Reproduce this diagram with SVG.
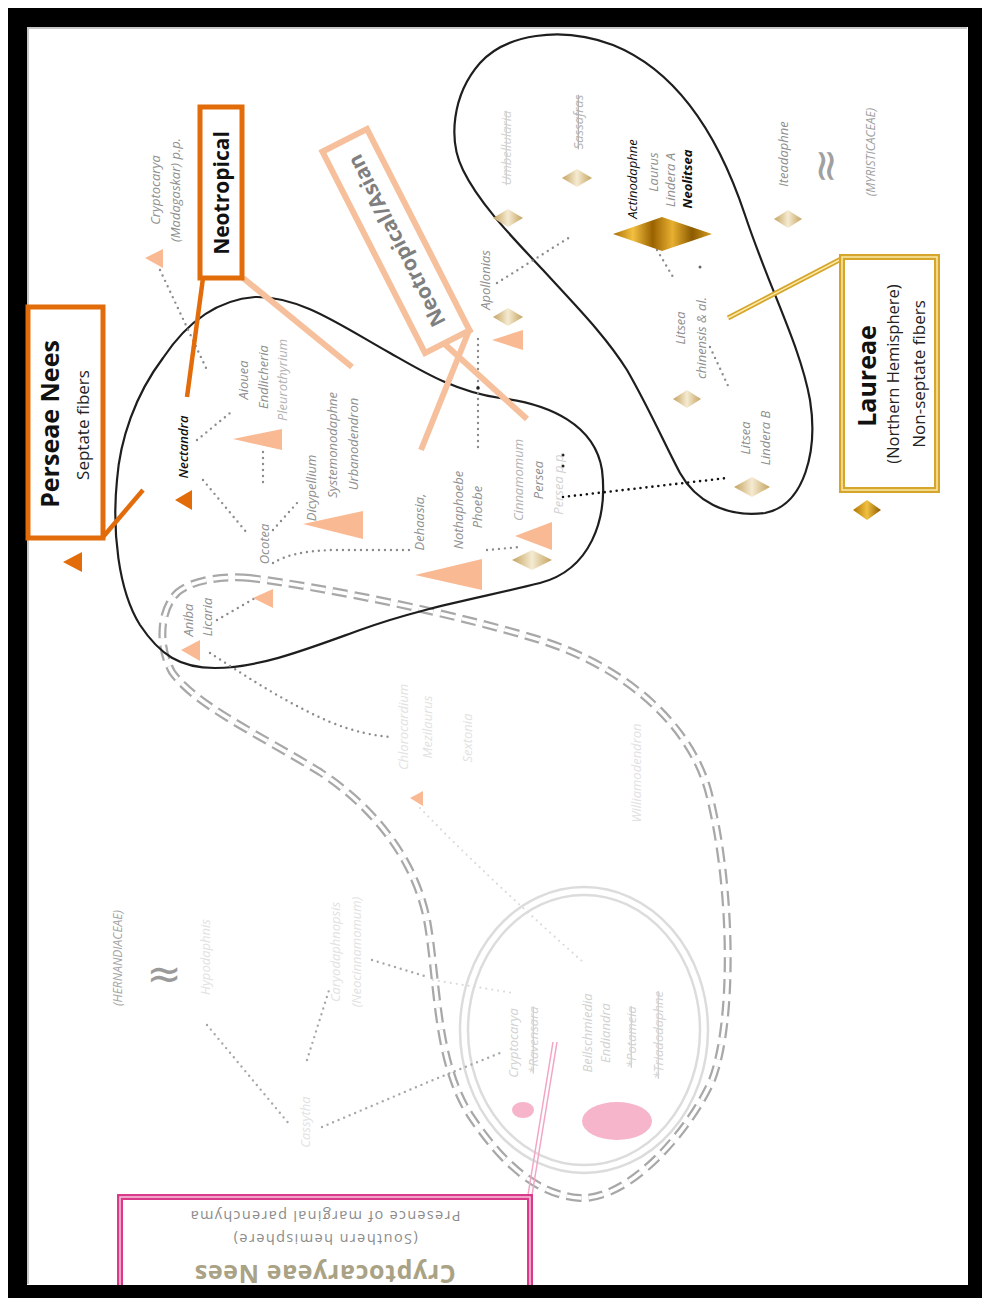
<svg xmlns="http://www.w3.org/2000/svg" width="990" height="1306" viewBox="0 0 990 1306">
<defs>
<style>
.it{font-family:"Open Sans","Liberation Sans",sans-serif;font-style:italic;font-size:13px;fill:#8f8f8f}
.lt{fill:#b3b3b3}
.vl{fill:#d2d2d2}
.fa{fill:#e2e2e2}
.bk{fill:#111}
.dot{fill:none;stroke:#8c8c8c;stroke-width:2.4;stroke-linecap:round;stroke-dasharray:0 6}
.dotl{fill:none;stroke:#dadada;stroke-width:2.2;stroke-linecap:round;stroke-dasharray:0 6}
.dotb{fill:none;stroke:#111;stroke-width:2.6;stroke-linecap:round;stroke-dasharray:0 6}
.blob{fill:none;stroke:#1e1e1e;stroke-width:2.2}
.to{fill:#E36C0A}
.tp{fill:#F8B993}
.dg{fill:url(#gtan)}
.bx{font-family:"Open Sans","Liberation Sans",sans-serif}
</style>
<linearGradient id="gtan" x1="0" y1="0" x2="1" y2="0">
<stop offset="0" stop-color="#c4a25e"/><stop offset="0.5" stop-color="#f5ebd2"/><stop offset="1" stop-color="#c4a25e"/>
</linearGradient>
<linearGradient id="ggold" x1="0" y1="0" x2="1" y2="0">
<stop offset="0" stop-color="#a86d00"/><stop offset="0.2" stop-color="#f3c040"/><stop offset="0.4" stop-color="#9a6200"/><stop offset="0.6" stop-color="#e8b030"/><stop offset="0.8" stop-color="#8c5a00"/><stop offset="1" stop-color="#d9a020"/>
</linearGradient>
<linearGradient id="ggold2" x1="0" y1="0" x2="1" y2="0">
<stop offset="0" stop-color="#b07400"/><stop offset="0.5" stop-color="#f0c040"/><stop offset="1" stop-color="#8f5a00"/>
</linearGradient>
</defs>
<rect x="0" y="0" width="990" height="1306" fill="#fff"/>

<!-- frame -->
<g id="frame">
<path d="M8,8 H982 V1298 H8 Z M27,27 V1285 H968 V27 Z" fill="#000" fill-rule="evenodd"/>
<path d="M28,1284 V28 H967" fill="none" stroke="#c8c8c8" stroke-width="2"/>
</g>

<!-- outlines -->
<g id="outlines">
<path d="M250,578 C230,576 195,578 178,592 C160,608 157,645 172,672 C195,705 260,735 320,772 C375,808 415,860 427,920 C438,980 435,1060 470,1115 C500,1160 535,1195 580,1198 C630,1200 690,1130 712,1080 C735,1020 732,880 708,790 C688,720 620,665 540,640 C460,615 330,588 250,578 Z" fill="none" stroke="#a8a8a8" stroke-width="8" stroke-dasharray="15 7"/>
<path d="M250,578 C230,576 195,578 178,592 C160,608 157,645 172,672 C195,705 260,735 320,772 C375,808 415,860 427,920 C438,980 435,1060 470,1115 C500,1160 535,1195 580,1198 C630,1200 690,1130 712,1080 C735,1020 732,880 708,790 C688,720 620,665 540,640 C460,615 330,588 250,578 Z" fill="none" stroke="#fff" stroke-width="3.5" stroke-dasharray="15 7"/>
<ellipse cx="584" cy="1030" rx="124" ry="143" fill="none" stroke="#dcdcdc" stroke-width="2.5"/>
<ellipse cx="584" cy="1030" rx="116" ry="135" fill="none" stroke="#dcdcdc" stroke-width="2.5"/>
<path class="blob" d="M163,358 C185,325 215,300 255,297 C300,296 340,325 390,353 C420,370 455,392 500,398 C550,404 595,425 602,470 C608,520 590,570 540,583 C480,598 420,608 360,630 C310,648 260,668 215,668 C180,668 160,655 140,625 C118,590 112,530 117,480 C120,440 135,395 163,358 Z"/>
<path class="blob" d="M480,63 C505,35 560,25 613,45 C670,68 715,125 745,215 C770,290 800,345 810,400 C818,450 805,505 765,513 C725,518 695,500 680,473 C665,445 650,410 627,370 C605,335 575,305 543,270 C515,240 480,205 463,170 C448,140 452,95 480,63 Z"/>
<ellipse cx="523" cy="1110" rx="11" ry="8" fill="#F6B5CB"/>
<ellipse cx="617" cy="1121" rx="35" ry="19" fill="#F6B5CB"/>
</g>

<!-- connectors -->
<g id="connectors">
<path class="dot" d="M160,270 L207,370"/>
<path class="dot" d="M197,440 L230,413"/>
<path class="dot" d="M263,452 L263,487"/>
<path class="dot" d="M203,480 L247,533"/>
<path class="dot" d="M273,530 L297,503"/>
<path class="dot" d="M273,563 C285,556 300,551 333,550 L410,550"/>
<path class="dot" d="M217,620 L257,597"/>
<path class="dot" d="M478,447 L478,337"/>
<path class="dot" d="M487,550 L520,547"/>
<path class="dotb" d="M563,497 L727,478"/>
<path class="dot" d="M497,283 L570,237"/>
<path class="dot" d="M657,250 L673,277"/>
<path class="dot" d="M710,347 L730,390"/>
<path class="dot" d="M210,653 C240,672 280,700 330,722 C355,732 375,736 392,737"/>
<path class="dotl" d="M420,808 C470,860 530,915 583,962"/>
<path class="dot" style="stroke:#a8a8a8" d="M207,1025 L290,1125"/>
<path class="dot" style="stroke:#a8a8a8" d="M322,1127 L433,1080 L500,1053"/>
<path class="dot" style="stroke:#a8a8a8" d="M307,1060 L330,987"/>
<path class="dot" style="stroke:#a8a8a8" d="M372,960 L428,977"/>
<path class="dotl" d="M433,980 L513,993"/>
<circle cx="700" cy="267" r="1.5" fill="#666"/>
<circle cx="563" cy="455" r="1.5" fill="#222"/>
<circle cx="563" cy="466" r="1.5" fill="#222"/>
<circle cx="478" cy="388" r="1.8" fill="#222"/>
<path d="M103,537 L143,490" stroke="#E36C0A" stroke-width="4.5" fill="none"/>
<path d="M203,278 L187,397" stroke="#E36C0A" stroke-width="4.5" fill="none"/>
<path d="M243,278 L352,367" stroke="#F6C09C" stroke-width="6" fill="none"/>
<path d="M470,328 L421,450" stroke="#F6C09C" stroke-width="6" fill="none"/>
<path d="M438,338 L527,419" stroke="#F6C09C" stroke-width="6" fill="none"/>
<path d="M843,258 L728,318" stroke="#d6a62c" stroke-width="5" fill="none"/>
<path d="M843,258 L728,318" stroke="#fbeaa8" stroke-width="1.5" fill="none"/>
<path d="M528,1195 L553,1042" stroke="#f2a5c4" stroke-width="1.5" fill="none"/>
<path d="M532,1195 L557,1042" stroke="#f2a5c4" stroke-width="1.5" fill="none"/>
</g>

<!-- boxes -->
<g id="box-perseae">
<rect x="28" y="307" width="75" height="231" fill="#fff" stroke="#E36C0A" stroke-width="5"/>
<text class="bx" transform="translate(59,424) rotate(-90)" text-anchor="middle" font-size="25" font-weight="bold" fill="#111">Perseae Nees</text>
<text class="bx" transform="translate(89,425) rotate(-90)" text-anchor="middle" font-size="17" fill="#222">Septate fibers</text>
</g>
<g id="box-neotropical">
<rect x="200" y="107" width="42" height="171" fill="#fff" stroke="#E36C0A" stroke-width="5"/>
<text class="bx" transform="translate(229,193) rotate(-90)" text-anchor="middle" font-size="21" font-weight="bold" fill="#111">Neotropical</text>
</g>
<g id="box-neoasian">
<g transform="translate(396,241) rotate(-117)">
<rect x="-113" y="-25" width="226" height="50" fill="#fff" stroke="#F6C09C" stroke-width="6"/>
<text class="bx" x="0" y="8" text-anchor="middle" font-size="21" font-weight="bold" fill="#7f7f7f">Neotropical/Asian</text>
</g>
</g>
<g id="box-laureae">
<rect x="842" y="257" width="95" height="233" fill="#fff" stroke="#d6a62c" stroke-width="6"/>
<rect x="842" y="257" width="95" height="233" fill="none" stroke="#fbeaa8" stroke-width="1.5"/>
<text class="bx" transform="translate(876,376) rotate(-90)" text-anchor="middle" font-size="25" font-weight="bold" fill="#111">Laureae</text>
<text class="bx" transform="translate(899,374) rotate(-90)" text-anchor="middle" font-size="16.5" fill="#222">(Northern Hemisphere)</text>
<text class="bx" transform="translate(925,374) rotate(-90)" text-anchor="middle" font-size="17" fill="#222">Non-septate fibers</text>
</g>
<g id="box-cryptocaryeae">
<rect x="120" y="1197" width="410" height="98" fill="#fff" stroke="#d93a8a" stroke-width="6"/>
<rect x="120" y="1197" width="410" height="98" fill="none" stroke="#f8c8dd" stroke-width="1.5"/>
<text class="bx" transform="translate(325,1265) rotate(180)" text-anchor="middle" font-size="25" font-weight="bold" letter-spacing="0.6" fill="#a9a285">Cryptocaryeae Nees</text>
<text class="bx" transform="translate(325,1234) rotate(180)" text-anchor="middle" font-size="14.5" letter-spacing="1.4" fill="#8c8c8c">(Southern hemisphere)</text>
<text class="bx" transform="translate(325,1211) rotate(180)" text-anchor="middle" font-size="14.5" letter-spacing="1.3" fill="#8c8c8c">Presence of marginal parenchyma</text>
</g>
<g id="frame-bottom">
<path d="M8,1285 H982 V1298 H8 Z" fill="#000"/>
</g>

<!-- nodes -->
<g id="n-perseae-tri"><polygon class="to" points="63,562 82,552 82,572"/></g>
<g id="n-nectandra"><polygon class="to" points="175,500 192,490 192,510"/>
<text class="it bk" font-weight="600" transform="translate(188,447) rotate(-90)" text-anchor="middle">Nectandra</text></g>
<g id="n-cryptocarya-mad"><polygon class="tp" points="145,258 163,249 163,268"/>
<text class="it" transform="translate(160,190) rotate(-90)" text-anchor="middle">Cryptocarya</text>
<text class="it" transform="translate(180,190) rotate(-90)" text-anchor="middle">(Madagaskar) p.p.</text></g>
<g id="n-aiouea"><polygon class="tp" points="233,439 282,429 282,450"/>
<text class="it" transform="translate(248,380) rotate(-90)" text-anchor="middle">Aiouea</text>
<text class="it" transform="translate(268,377) rotate(-90)" text-anchor="middle">Endlicheria</text>
<text class="it lt" transform="translate(287,380) rotate(-90)" text-anchor="middle">Pleurothyrium</text></g>
<g id="n-dicypellium"><polygon class="tp" points="303,524 363,511 363,539"/>
<text class="it" transform="translate(316,488) rotate(-90)" text-anchor="middle">Dicypellium</text>
<text class="it" transform="translate(337,445) rotate(-90)" text-anchor="middle">Systemonodaphne</text>
<text class="it" transform="translate(358,444) rotate(-90)" text-anchor="middle">Urbanodendron</text></g>
<g id="n-ocotea"><polygon class="tp" points="253,598 273,589 273,608"/>
<text class="it" transform="translate(269,544) rotate(-90)" text-anchor="middle">Ocotea</text></g>
<g id="n-aniba"><polygon class="tp" points="181,650 200,640 200,661"/>
<text class="it" transform="translate(193,620) rotate(-90)" text-anchor="middle">Aniba</text>
<text class="it" transform="translate(212,617) rotate(-90)" text-anchor="middle">Licaria</text></g>
<g id="n-dehaasia">
<text class="it" transform="translate(424,522) rotate(-90)" text-anchor="middle">Dehaasia,</text></g>
<g id="n-phoebe"><polygon class="tp" points="415,575 482,559 482,590"/>
<text class="it" transform="translate(463,510) rotate(-90)" text-anchor="middle">Nothaphoebe</text>
<text class="it" transform="translate(482,507) rotate(-90)" text-anchor="middle">Phoebe</text></g>
<g id="n-persea"><polygon class="tp" points="515,536 552,522 552,550"/>
<polygon class="dg" points="512,560 532,550 552,560 532,570"/>
<text class="it lt" transform="translate(523,480) rotate(-90)" text-anchor="middle">Cinnamomum</text>
<text class="it" transform="translate(543,480) rotate(-90)" text-anchor="middle">Persea</text>
<text class="it vl" transform="translate(563,483) rotate(-90)" text-anchor="middle">Persea p.p.</text></g>
<g id="n-apollonias"><polygon class="dg" points="493,317 508,308 523,317 508,326"/>
<polygon class="tp" points="492,340 523,330 523,350"/>
<text class="it" transform="translate(490,280) rotate(-90)" text-anchor="middle">Apollonias</text></g>
<g id="n-umbellularia"><polygon class="dg" points="493,218 508,209 523,218 508,227"/>
<text class="it vl" text-decoration="line-through" transform="translate(511,148) rotate(-90)" text-anchor="middle">Umbellularia</text></g>
<g id="n-sassafras"><polygon class="dg" points="562,178 577,169 592,178 577,187"/>
<text class="it lt" text-decoration="line-through" transform="translate(583,122) rotate(-90)" text-anchor="middle">Sassafras</text></g>
<g id="n-actinodaphne"><polygon fill="url(#ggold)" points="613,234 662,217 712,234 662,251"/>
<text class="it bk" transform="translate(637,179) rotate(-90)" text-anchor="middle">Actinodaphne</text>
<text class="it" transform="translate(658,172) rotate(-90)" text-anchor="middle">Laurus</text>
<text class="it" transform="translate(675,180) rotate(-90)" text-anchor="middle">Lindera A</text>
<text class="it bk" font-style="normal" font-weight="bold" transform="translate(692,179) rotate(-90)" text-anchor="middle">Neolitsea</text></g>
<g id="n-itea"><polygon class="dg" points="774,219 788,210 802,219 788,228"/>
<text class="it" transform="translate(788,154) rotate(-90)" text-anchor="middle">Iteadaphne</text></g>
<g id="n-myristicaceae">
<text font-family="'DejaVu Sans',sans-serif" transform="translate(840,166) rotate(-90)" text-anchor="middle" font-size="44" fill="#a0a0a0">≈</text>
<text class="it" style="fill:#a0a0a0;font-size:12px" transform="translate(875,152) rotate(-90)" text-anchor="middle">(MYRISTICACEAE)</text></g>
<g id="n-litsea"><polygon class="dg" points="673,399 687,390 701,399 687,408"/>
<text class="it" transform="translate(685,328) rotate(-90)" text-anchor="middle">Litsea</text>
<text class="it" transform="translate(706,338) rotate(-90)" text-anchor="middle">chinensis &amp; al.</text></g>
<g id="n-litseaB"><polygon class="dg" points="734,487 752,477 770,487 752,497"/>
<text class="it" transform="translate(750,438) rotate(-90)" text-anchor="middle">Litsea</text>
<text class="it" transform="translate(770,438) rotate(-90)" text-anchor="middle">Lindera B</text></g>
<g id="n-laureae-dia"><polygon fill="url(#ggold2)" points="853,510 867,500 881,510 867,520"/></g>
<g id="n-small-tri"><polygon class="tp" points="410,798 423,791 423,806"/></g>
<g id="n-hernandiaceae">
<text class="it" style="fill:#a6a6a6;font-size:12px" transform="translate(122,958) rotate(-90)" text-anchor="middle">(HERNANDIACEAE)</text>
<text font-family="'DejaVu Sans',sans-serif" x="164" y="988" text-anchor="middle" font-size="42" fill="#9a9a9a">≈</text></g>
<g id="n-faint">
<text class="it fa" transform="translate(210,957) rotate(-90)" text-anchor="middle">Hypodaphnis</text>
<text class="it fa" transform="translate(340,952) rotate(-90)" text-anchor="middle">Caryodaphnopsis</text>
<text class="it fa" transform="translate(361,952) rotate(-90)" text-anchor="middle">(Neocinnamomum)</text>
<text class="it fa" transform="translate(310,1122) rotate(-90)" text-anchor="middle">Cassytha</text>
<text class="it fa" transform="translate(408,727) rotate(-90)" text-anchor="middle">Chlorocardium</text>
<text class="it fa" transform="translate(432,727) rotate(-90)" text-anchor="middle">Mezilaurus</text>
<text class="it fa" transform="translate(472,738) rotate(-90)" text-anchor="middle">Sextonia</text>
<text class="it fa" transform="translate(641,773) rotate(-90)" text-anchor="middle">Williamodendron</text></g>
<g id="n-cryptocaryeae">
<text class="it vl" transform="translate(518,1043) rotate(-90)" text-anchor="middle">Cryptocarya</text>
<text class="it vl" text-decoration="line-through" transform="translate(538,1040) rotate(-90)" text-anchor="middle">*Ravensara</text>
<text class="it vl" transform="translate(592,1033) rotate(-90)" text-anchor="middle">Beilschmiedia</text>
<text class="it vl" transform="translate(610,1033) rotate(-90)" text-anchor="middle">Endiandra</text>
<text class="it vl" text-decoration="line-through" transform="translate(636,1037) rotate(-90)" text-anchor="middle">*Potameia</text>
<text class="it vl" text-decoration="line-through" transform="translate(663,1035) rotate(-90)" text-anchor="middle">*Triadodaphne</text></g>
</svg>
